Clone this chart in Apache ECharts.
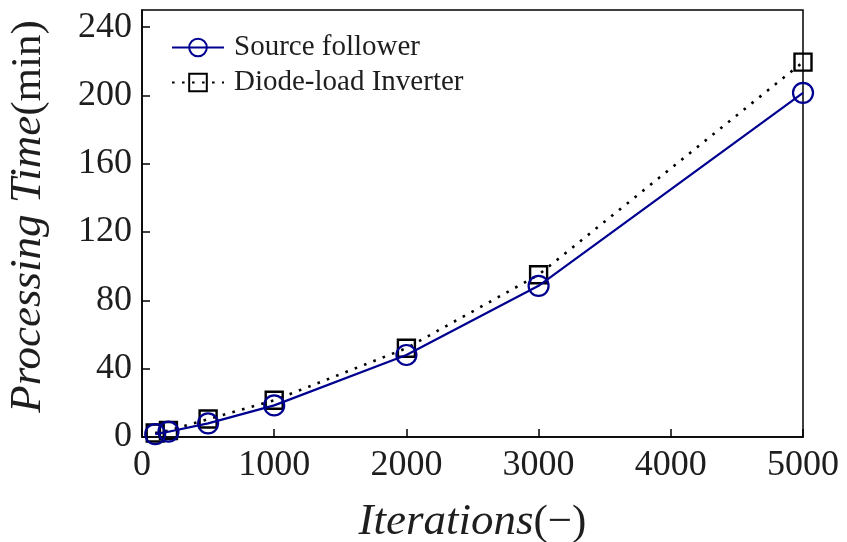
<!DOCTYPE html>
<html>
<head>
<meta charset="utf-8">
<script src="https://cdn.jsdelivr.net/npm/echarts@6/dist/echarts.min.js"></script>
<style>
  html, body { margin: 0; padding: 0; background: #fff; }
  #chart { width: 847px; height: 542px; }
</style>
</head>
<body>
<div id="chart"></div>
<script>
// Iteration counts (x) and processing times in minutes (y)
const iterations = [100, 200, 500, 1000, 2000, 3000, 5000];
const sourceFollower = [1.7, 3.1, 8.0, 18.5, 48, 88.5, 201.5];
const diodeInverter = [2.3, 3.8, 10.5, 21.5, 52, 95, 219.5];
const yTicks = [0, 40, 80, 120, 160, 200, 240];
const xTicks = [0, 1000, 2000, 3000, 4000, 5000];

const pairs = ys => iterations.map((x, i) => [x, ys[i]]);
const FONT = 'Liberation Serif';
const INK = '#1e1e1e';
const NAVY = '#000090';

const chart = echarts.init(document.getElementById('chart'), null, { renderer: 'canvas' });
chart.setOption({
  backgroundColor: '#fff',
  animation: false,
  grid: {
    left: 142, right: 44, top: 10, bottom: 105,
    outerBoundsMode: 'none',
    containLabel: false,
    show: true, borderColor: '#000', borderWidth: 1.5, backgroundColor: 'transparent'
  },
  legend: {
    left: 166, top: 28,
    orient: 'vertical',
    itemWidth: 52, itemHeight: 22, itemGap: 6,
    textStyle: { fontFamily: FONT, fontSize: 29, color: INK, padding: [0, 0, 0, 5] },
    data: ['Source follower', 'Diode-load Inverter']
  },
  xAxis: {
    type: 'value',
    min: xTicks[0], max: xTicks[xTicks.length - 1], interval: 1000,
    splitLine: { show: false },
    axisLine: { show: true, lineStyle: { color: '#000', width: 1.5 } },
    axisTick: { show: true, inside: true, length: 8, lineStyle: { color: '#000', width: 1.5 } },
    axisLabel: {
      fontFamily: FONT, fontSize: 36, color: INK, margin: 11,
      formatter: v => String(v)
    },
    name: '{i|Iterations}{n|(−)}',
    nameLocation: 'middle', nameGap: 63,
    nameTextStyle: {
      rich: {
        i: { fontFamily: FONT, fontStyle: 'italic', fontSize: 45, color: INK },
        n: { fontFamily: FONT, fontSize: 43, color: INK }
      }
    }
  },
  yAxis: {
    type: 'value',
    min: 0, max: 250, interval: 40,
    splitLine: { show: false },
    axisLine: { show: true, lineStyle: { color: '#000', width: 1.5 } },
    axisTick: { show: true, inside: true, length: 8, lineStyle: { color: '#000', width: 1.5 } },
    axisLabel: {
      fontFamily: FONT, fontSize: 36, color: INK, margin: 10,
      showMaxLabel: false,
      formatter: v => (yTicks.indexOf(v) >= 0 ? String(v) : '')
    },
    name: '{i|Processing Time}{n|(min)}',
    nameLocation: 'middle', nameGap: 91, nameRotate: 90,
    nameTextStyle: {
      padding: [0, 0, 0, 14],
      rich: {
        i: { fontFamily: FONT, fontStyle: 'italic', fontSize: 45, color: INK },
        n: { fontFamily: FONT, fontSize: 43, color: INK }
      }
    }
  },
  series: [
    {
      name: 'Source follower',
      type: 'line',
      data: pairs(sourceFollower),
      symbol: 'circle', symbolSize: 20,
      showAllSymbol: true,
      itemStyle: { color: 'rgba(255,255,255,0)', borderColor: NAVY, borderWidth: 2.2 },
      lineStyle: { color: NAVY, width: 2.2 },
      color: NAVY,
      z: 3
    },
    {
      name: 'Diode-load Inverter',
      type: 'line',
      data: pairs(diodeInverter),
      symbol: 'rect', symbolSize: 17,
      showAllSymbol: true,
      itemStyle: { color: 'rgba(255,255,255,0)', borderColor: '#000', borderWidth: 2.4 },
      lineStyle: { color: '#000', width: 2.6, type: [2.6, 7.4] },
      color: '#000',
      z: 2
    }
  ]
});
</script>
</body>
</html>
